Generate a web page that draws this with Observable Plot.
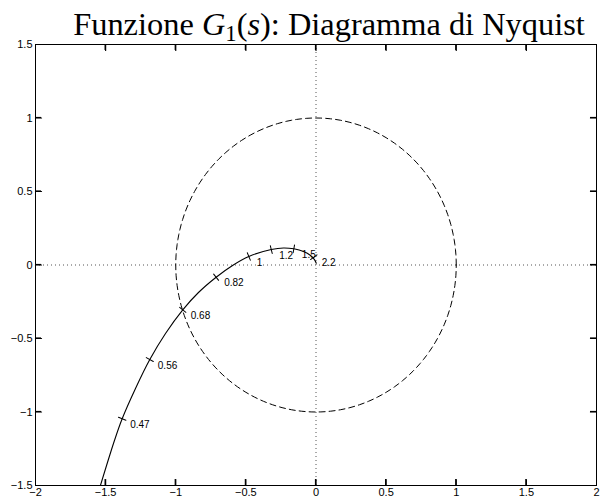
<!DOCTYPE html>
<html><head><meta charset="utf-8">
<script src="https://cdn.jsdelivr.net/npm/d3@7"></script>
<script src="https://cdn.jsdelivr.net/npm/@observablehq/plot@0.6"></script>
<style>
body{margin:0;background:#fff}
#wrap{position:relative;width:600px;height:500px}
#title{position:absolute;left:0;width:600px;top:8px;text-align:center;padding-left:58px;box-sizing:border-box;font-family:"Liberation Serif","DejaVu Serif",serif;font-size:32.4px;line-height:1;white-space:nowrap}
#title sub{font-size:0.7em;line-height:0;vertical-align:-0.25em}
</style></head><body>
<div id="wrap"><div id="title">Funzione <i>G</i><sub>1</sub>(<i>s</i>): Diagramma di Nyquist</div></div>
<script>
const curveRe = [-1.537, -1.437, -1.382, -1.287, -1.185, -1.073, -0.950, -0.838, -0.712, -0.595, -0.479, -0.319, -0.232, -0.158, -0.089, -0.039, -0.011, 0.002];
const curveIm = [-1.500, -1.194, -1.046, -0.840, -0.643, -0.466, -0.305, -0.187, -0.083, -0.003, 0.058, 0.105, 0.116, 0.110, 0.092, 0.065, 0.037, 0.012];
// frequency markers
const freqLabels = ["0.47", "0.56", "0.68", "0.82", "1", "1.2", "1.5", "2.2"];
const freqRe = [-1.382, -1.185, -0.950, -0.712, -0.479, -0.319, -0.158, -0.016];
const freqIm = [-1.046, -0.643, -0.305, -0.083, 0.058, 0.105, 0.110, 0.053];
const xTicks = [-2, -1.5, -1, -0.5, 0, 0.5, 1, 1.5, 2];
const yTicks = [-1.5, -1, -0.5, 0, 0.5, 1, 1.5];

const W = 600, H = 500, mL = 35, mR = 4, mT = 44, mB = 15;
const xDom = [xTicks[0], xTicks[xTicks.length - 1]];
const yDom = [yTicks[0], yTicks[yTicks.length - 1]];
const kx = (W - mL - mR) / (xDom[1] - xDom[0]), ky = (H - mT - mB) / (yDom[1] - yDom[0]);

const curve = curveRe.map((re, i) => ({re, im: curveIm[i]}));
const circle = d3.range(0, 361, 2).map(a => ({re: Math.cos(a * Math.PI / 180), im: Math.sin(a * Math.PI / 180)}));

function nearestIdx(re, im) {
  let best = 0, bd = Infinity;
  curve.forEach((p, i) => { const d = (p.re - re) ** 2 + (p.im - im) ** 2; if (d < bd) { bd = d; best = i; } });
  return best;
}
const freq = freqLabels.map((label, i) => {
  const re = freqRe[i], im = freqIm[i];
  const j = nearestIdx(re, im);
  const a = curve[Math.max(0, j - 1)], b = curve[Math.min(curve.length - 1, j + 1)];
  const tx = (b.re - a.re) * kx, ty = -(b.im - a.im) * ky;
  const px = -ty, py = tx;
  const rot = Math.atan2(px, -py) * 180 / Math.PI;
  return {label, re, im, rot};
});

const fmt = d => d3.format("~g")(d).replace("-", "\u2212");
const seg = {draw(ctx, l) { ctx.moveTo(0, 0); ctx.lineTo(0, -l); }};
const innerX = xTicks.slice(1, -1), innerY = yTicks.slice(1, -1);
const T = 6;

const frameTicks = [
  ...innerX.map(v => ({x: v, y: yDom[0], r: 0})),
  ...innerX.map(v => ({x: v, y: yDom[1], r: 180})),
  ...innerY.map(v => ({x: xDom[0], y: v, r: 90})),
  ...innerY.map(v => ({x: xDom[1], y: v, r: 270}))
];

const plot = Plot.plot({
  width: W, height: H,
  marginLeft: mL, marginRight: mR, marginTop: mT, marginBottom: mB,
  x: {domain: xDom},
  y: {domain: yDom},
  style: {fontFamily: "'Liberation Sans', Arial, sans-serif", fontSize: "11px", background: "white"},
  marks: [
    Plot.ruleX([0], {stroke: "#555", strokeDasharray: "1,3", strokeWidth: 1}),
    Plot.ruleY([0], {stroke: "#555", strokeDasharray: "1,3", strokeWidth: 1}),
    Plot.line(circle, {x: "re", y: "im", stroke: "black", strokeWidth: 1, strokeDasharray: "6,4"}),
    Plot.line(curve, {x: "re", y: "im", stroke: "black", strokeWidth: 1.1, curve: "catmull-rom", clip: true}),
    Plot.vector(freq, {x: "re", y: "im", rotate: "rot", length: 8, anchor: "middle", shape: seg, stroke: "black", strokeWidth: 1}),
    Plot.text(freq, {x: "re", y: "im", text: "label", dx: 8, dy: 6, textAnchor: "start", fontSize: 10, fill: "black"}),
    Plot.frame({stroke: "black", strokeWidth: 1}),
    Plot.vector(frameTicks, {x: "x", y: "y", rotate: "r", length: T, anchor: "start", shape: seg, stroke: "black", strokeWidth: 1.2}),
    Plot.axisX({anchor: "bottom", ticks: xTicks, tickSize: 0, tickPadding: 3, tickFormat: fmt, label: null}),
    Plot.axisY({anchor: "left", ticks: yTicks, tickSize: 0, tickPadding: 3, tickFormat: fmt, label: null})
  ]
});
document.getElementById("wrap").prepend(plot);

// Also draw the inward frame ticks directly from Plot's own scales
const sx = plot.scale("x"), sy = plot.scale("y");
const X = v => sx.apply(v), Y = v => sy.apply(v);
const g = d3.select(plot).append("g").attr("stroke", "black").attr("stroke-width", 1.2);
const yb = Y(yDom[0]), yt = Y(yDom[1]), xl = X(xDom[0]), xr = X(xDom[1]);
innerX.forEach(v => {
  g.append("line").attr("x1", X(v)).attr("x2", X(v)).attr("y1", yb).attr("y2", yb - T);
  g.append("line").attr("x1", X(v)).attr("x2", X(v)).attr("y1", yt).attr("y2", yt + T);
});
innerY.forEach(v => {
  g.append("line").attr("y1", Y(v)).attr("y2", Y(v)).attr("x1", xl).attr("x2", xl + T);
  g.append("line").attr("y1", Y(v)).attr("y2", Y(v)).attr("x1", xr).attr("x2", xr - T);
});
</script>
</body></html>
